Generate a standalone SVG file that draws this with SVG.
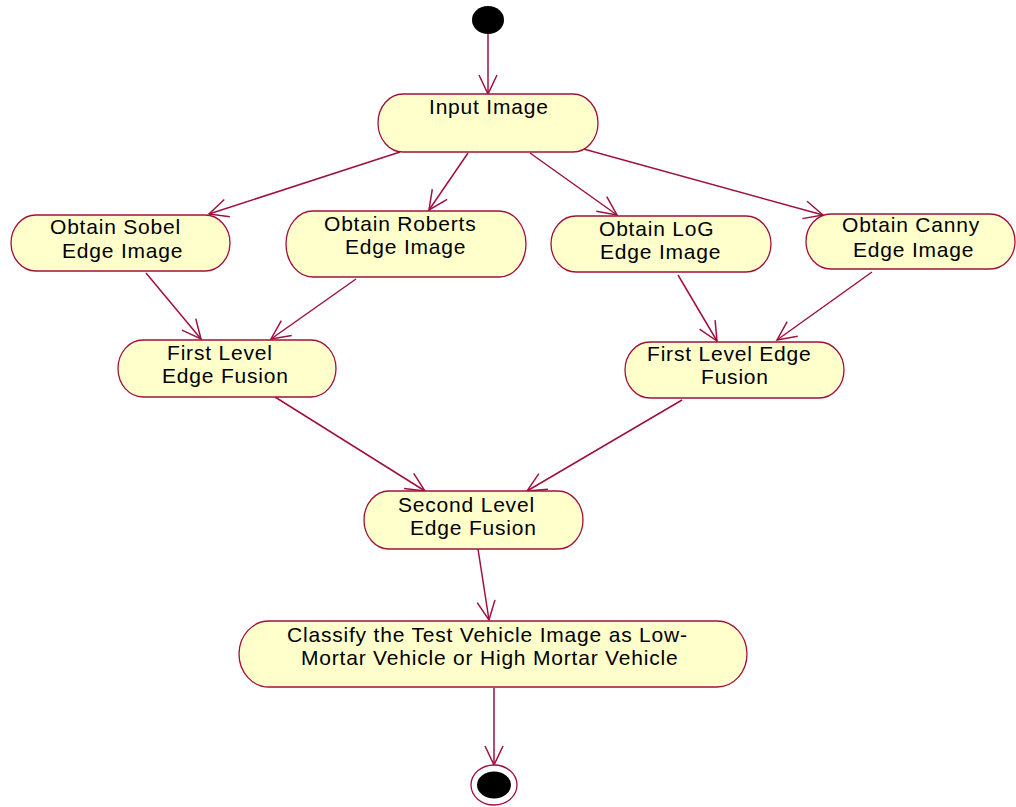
<svg xmlns="http://www.w3.org/2000/svg" width="1016" height="807" viewBox="0 0 1016 807">
<style>
.node{fill:#FFFFCC;stroke:#A0103F;stroke-width:1.3}
.lbl{font-family:"Liberation Sans",Arial,sans-serif;font-size:21px;letter-spacing:0.8px;fill:#000}
.edge{stroke:#A0103F;stroke-width:1.5;fill:none;marker-end:url(#arr)}
</style>
<defs>
<marker id="arr" markerUnits="userSpaceOnUse" markerWidth="22" markerHeight="22" viewBox="0 0 22 22" refX="20" refY="11" orient="auto">
<path d="M1,2 L20,11 L1,20" fill="none" stroke="#A0103F" stroke-width="1.5"/>
</marker>
</defs>
<rect width="1016" height="807" fill="#fff"/>
<g id="connectors">
<line class="edge" x1="488" y1="34" x2="488" y2="94"/>
<line class="edge" x1="400" y1="152" x2="209" y2="214"/>
<line class="edge" x1="468" y1="153" x2="429" y2="210"/>
<line class="edge" x1="530" y1="153" x2="617" y2="215"/>
<line class="edge" x1="580" y1="148" x2="823" y2="215"/>
<line class="edge" x1="146" y1="273" x2="201" y2="339"/>
<line class="edge" x1="356" y1="279" x2="271" y2="339"/>
<line class="edge" x1="678" y1="275" x2="717" y2="341"/>
<line class="edge" x1="872" y1="272" x2="777" y2="340"/>
<line class="edge" x1="275" y1="397" x2="425" y2="491"/>
<line class="edge" x1="682" y1="400" x2="527" y2="491"/>
<line class="edge" x1="478" y1="549" x2="489" y2="620"/>
<line class="edge" x1="494" y1="688" x2="494" y2="765"/>
</g>
<g id="start">
<ellipse cx="488" cy="20" rx="16" ry="14" fill="#000"/>
</g>
<g id="input">
<rect class="node" x="378" y="94" width="220" height="58" rx="25" ry="29"/>
<text class="lbl" x="429" y="114">Input Image</text>
</g>
<g id="sobel">
<rect class="node" x="11" y="215" width="219" height="56" rx="25" ry="28"/>
<text class="lbl" x="50" y="234">Obtain Sobel</text>
<text class="lbl" x="62" y="258">Edge Image</text>
</g>
<g id="roberts">
<rect class="node" x="286" y="211" width="240" height="66" rx="27" ry="33"/>
<text class="lbl" x="324" y="231">Obtain Roberts</text>
<text class="lbl" x="345" y="254">Edge Image</text>
</g>
<g id="log">
<rect class="node" x="551" y="216" width="220" height="56" rx="25" ry="28"/>
<text class="lbl" x="599" y="236">Obtain LoG</text>
<text class="lbl" x="600" y="259">Edge Image</text>
</g>
<g id="canny">
<rect class="node" x="806" y="214" width="209" height="55" rx="25" ry="27.5"/>
<text class="lbl" x="842" y="232">Obtain Canny</text>
<text class="lbl" x="853" y="257">Edge Image</text>
</g>
<g id="fusion1">
<rect class="node" x="118" y="340" width="218" height="57" rx="25" ry="28.5"/>
<text class="lbl" x="167" y="360">First Level</text>
<text class="lbl" x="162" y="383">Edge Fusion</text>
</g>
<g id="fusion2">
<rect class="node" x="625" y="342" width="219" height="56" rx="25" ry="28"/>
<text class="lbl" x="647" y="361">First Level Edge</text>
<text class="lbl" x="701" y="384">Fusion</text>
</g>
<g id="second">
<rect class="node" x="364" y="491" width="219" height="58" rx="25" ry="29"/>
<text class="lbl" x="398" y="512">Second Level</text>
<text class="lbl" x="410" y="535">Edge Fusion</text>
</g>
<g id="classify">
<rect class="node" x="239" y="621" width="508" height="66" rx="30" ry="33"/>
<text class="lbl" x="287" y="642">Classify the Test Vehicle Image as Low-</text>
<text class="lbl" x="301" y="665">Mortar Vehicle or High Mortar Vehicle</text>
</g>
<g id="end">
<ellipse cx="494" cy="785" rx="23" ry="20" fill="#fff" stroke="#A0103F" stroke-width="1.3"/>
<ellipse cx="494" cy="785" rx="17" ry="13.5" fill="#000"/>
</g>
</svg>
